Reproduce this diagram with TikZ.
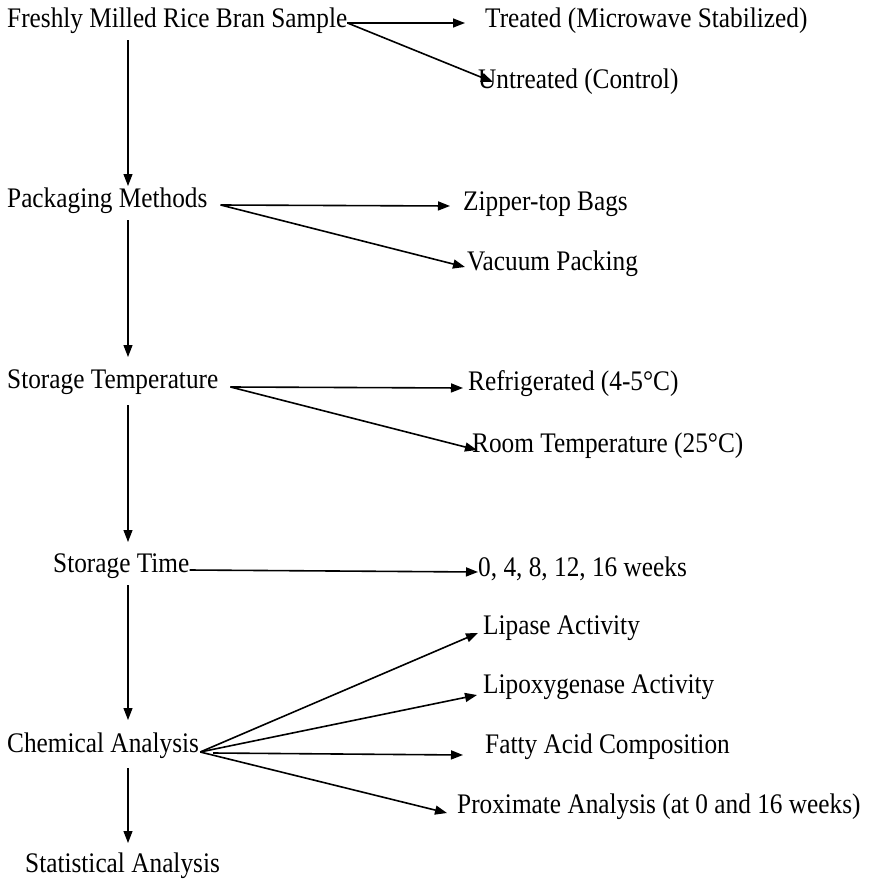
\documentclass[tikz,border=0pt]{standalone}
\usepackage{fontspec}
\setmainfont{Liberation Serif}
\usetikzlibrary{arrows.meta,calc}
\begin{document}
\begin{tikzpicture}[x=1pt,y=-1pt,
  lbl/.style={anchor=base west,inner sep=0pt,font=\fontsize{25.3}{30}\selectfont,transform shape,yscale=1.12},
  arr/.style={-{Triangle[length=12pt,width=9pt]},line width=1.6pt},
  varr/.style={-{Triangle[length=12pt,width=9pt]},line width=1.1pt}]
\useasboundingbox[fill=white] (0,0) rectangle (871,881);

\node[lbl] (fresh) at (7,27) {Freshly Milled Rice Bran Sample};
\node[lbl] (treat) at (485,27) {Treated (Microwave Stabilized)};
\node[lbl] (untr) at (478,88) {Untreated (Control)};
\node[lbl] (pack) at (7,207) {Packaging Methods};
\node[lbl] (zip) at (463,210) {Zipper-top Bags};
\node[lbl] (vac) at (467,270) {Vacuum Packing};
\node[lbl] (stemp) at (7,388) {Storage Temperature};
\node[lbl] (ref) at (468,390) {Refrigerated (4-5°C)};
\node[lbl] (room) at (472,452) {Room Temperature (25°C)};
\node[lbl] (stime) at (53,572) {Storage Time};
\node[lbl] (weeks) at (478,576) {0, 4, 8, 12, 16 weeks};
\node[lbl] (lip) at (483,634) {Lipase Activity};
\node[lbl] (lox) at (483,693) {Lipoxygenase Activity};
\node[lbl] (chem) at (7,752) {Chemical Analysis};
\node[lbl] (fatty) at (485,753) {Fatty Acid Composition};
\node[lbl] (prox) at (457,813) {Proximate Analysis (at 0 and 16 weeks)};
\node[lbl] (stat) at (25,872) {Statistical Analysis};

% origins of the fans
\coordinate (o1) at ($(fresh.base east)+(0,-4)$);
\coordinate (o2) at ($(pack.base east)+(13,-2)$);
\coordinate (o3) at ($(stemp.base east)+(12,-1)$);
\coordinate (o5) at ($(chem.base east)+(1,0)$);

\draw[arr] (o1) -- ($(treat.base west)+(-20,-4)$);
\draw[arr] (o1) -- ($(untr.base west)+(15,-6)$);

\draw[arr] (o2) -- ($(zip.base west)+(-13,-4)$);
\draw[arr] (o2) -- ($(vac.base west)+(-2,-3)$);

\draw[arr] (o3) -- ($(ref.base west)+(-5,-2)$);
\draw[arr] (o3) -- ($(room.base west)+(5,-2)$);

\draw[arr] ($(stime.base east)+(0,-2)$) -- ($(weeks.base west)+(0,-4)$);

\draw[arr] (o5) -- ($(lip.base west)+(-5,-1)$);
\draw[arr] (o5) -- ($(lox.base west)+(-6,2)$);
\draw[arr] ($(chem.base east)+(14,1)$) -- ($(fatty.base west)+(-22,2)$);
\draw[arr] (o5) -- ($(prox.base west)+(-10,0)$);

% vertical flow
\draw[varr] ($(fresh.base west)+(121,13)$) -- ($(pack.base west)+(121,-21)$);
\draw[varr] ($(pack.base west)+(121,13)$) -- ($(stemp.base west)+(121,-31)$);
\draw[varr] ($(stemp.base west)+(121,17)$) -- ($(stime.base west)+(75,-30)$);
\draw[varr] ($(stime.base west)+(75,13)$) -- ($(chem.base west)+(121,-32)$);
\draw[varr] ($(chem.base west)+(121,16)$) -- ($(stat.base west)+(103,-29)$);
\end{tikzpicture}
\end{document}
